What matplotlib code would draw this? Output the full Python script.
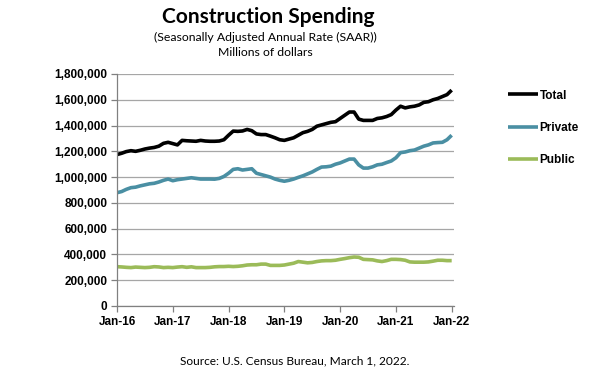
import matplotlib
matplotlib.use("Agg")
import matplotlib.pyplot as plt
import numpy as np

tick_labels = ["Jan-16", "Jan-17", "Jan-18", "Jan-19", "Jan-20", "Jan-21", "Jan-22"]

# Monthly values, Jan 2016 .. Jan 2022 (millions of dollars, SAAR)
total = [1175, 1185, 1198, 1205, 1200, 1208, 1218, 1225, 1230, 1240, 1262, 1270,
         1260, 1250, 1285, 1282, 1280, 1278, 1285, 1280, 1278, 1278, 1280, 1290,
         1325, 1357, 1355, 1358, 1370, 1360, 1335, 1330, 1330, 1318, 1305, 1290,
         1285, 1295, 1305, 1325, 1345, 1355, 1370, 1395, 1405, 1415, 1425, 1430,
         1455, 1480, 1505, 1505, 1450, 1440, 1440, 1440, 1455, 1460, 1470, 1485,
         1520, 1550, 1537, 1545, 1550, 1560, 1580, 1585, 1600, 1610, 1625, 1640,
         1675]
total = [v * 1000 for v in total]

private = [879, 888, 905, 918, 922, 932, 940, 948, 952, 962, 975, 985,
           972, 980, 985, 990, 995, 990, 985, 985, 985, 984, 990, 1005,
           1030, 1060, 1065, 1055, 1060, 1065, 1030, 1020, 1010, 1000, 985, 975,
           968, 975, 985, 998, 1010, 1025, 1040, 1060, 1078, 1080, 1085, 1100,
           1110, 1125, 1140, 1140, 1095, 1070, 1070, 1080, 1095, 1100, 1113, 1125,
           1150, 1190, 1195, 1205, 1210, 1225, 1240, 1250, 1265, 1268, 1270, 1290,
           1325]
private = [v * 1000 for v in private]

public = [305, 303, 300, 298, 302, 300, 298, 300, 305, 303, 298, 300,
          298, 302, 305, 300, 304, 298, 298, 298, 300, 304, 306, 306,
          308, 306, 308, 312, 318, 320, 320, 325, 325, 315, 315, 315,
          318, 325, 332, 345, 340, 335, 338, 345, 350, 352, 352, 355,
          362, 368, 375, 380, 378, 362, 360, 358, 350, 345, 352, 362,
          362, 360, 355, 342, 340, 340, 340, 342, 348, 355, 355, 352,
          352]
public = [v * 1000 for v in public]

series_names = ["Total", "Private", "Public"]
colors = ["#000000", "#4A8FA3", "#9BBB59"]

fig = plt.figure(figsize=(5.9, 3.92), dpi=100)
ax = fig.add_axes([117/590, 1-306/392, (454-117)/590, (306-74)/392])

x = np.arange(len(total))
for vals, name, c in zip([total, private, public], series_names, colors):
    ax.plot(x, vals, color=c, lw=2.6, label=name, solid_capstyle='butt')

ax.set_xlim(0, 72.5)
ax.set_ylim(0, 1800000)
ax.set_yticks(np.arange(0, 1800001, 200000))
ax.set_yticklabels([f"{v:,}" for v in np.arange(0, 1800001, 200000)],
                   fontfamily="Liberation Sans", fontweight="bold", fontsize=8.5)
ax.set_xticks(np.arange(0, 73, 12))
ax.set_xticklabels(tick_labels, fontfamily="Liberation Sans", fontweight="bold", fontsize=8.5)
ax.yaxis.grid(True, color="#A6A6A6", lw=0.9)
ax.set_axisbelow(True)
for s in ["top", "right"]:
    ax.spines[s].set_visible(False)
for s in ["left", "bottom"]:
    ax.spines[s].set_color("#808080")
    ax.spines[s].set_linewidth(0.9)
ax.tick_params(axis="both", direction="out", length=4, color="#808080", width=0.9, pad=3)

fig.text(268/590, 1-17/392, "Construction Spending", ha="center", va="center",
         fontfamily="Lato", fontweight="bold", fontsize=15)
fig.text(265/590, 1-37/392, "(Seasonally Adjusted Annual Rate (SAAR))", ha="center", va="center",
         fontfamily="Lato", fontsize=8.8)
fig.text(265/590, 1-52/392, "Millions of dollars", ha="center", va="center",
         fontfamily="Lato", fontsize=8.8)
fig.text(295/590, 1-361/392, "Source: U.S. Census Bureau, March 1, 2022.", ha="center", va="center",
         fontfamily="Lato", fontsize=8.6)

leg = fig.legend(loc="upper left", bbox_to_anchor=(497/590, 1-79/392), frameon=False,
                 handlelength=2.6, handletextpad=0.1, labelspacing=1.7,
                 prop={"family": "Liberation Sans", "weight": "bold", "size": 8.5})

fig.savefig("out.png", dpi=100)
